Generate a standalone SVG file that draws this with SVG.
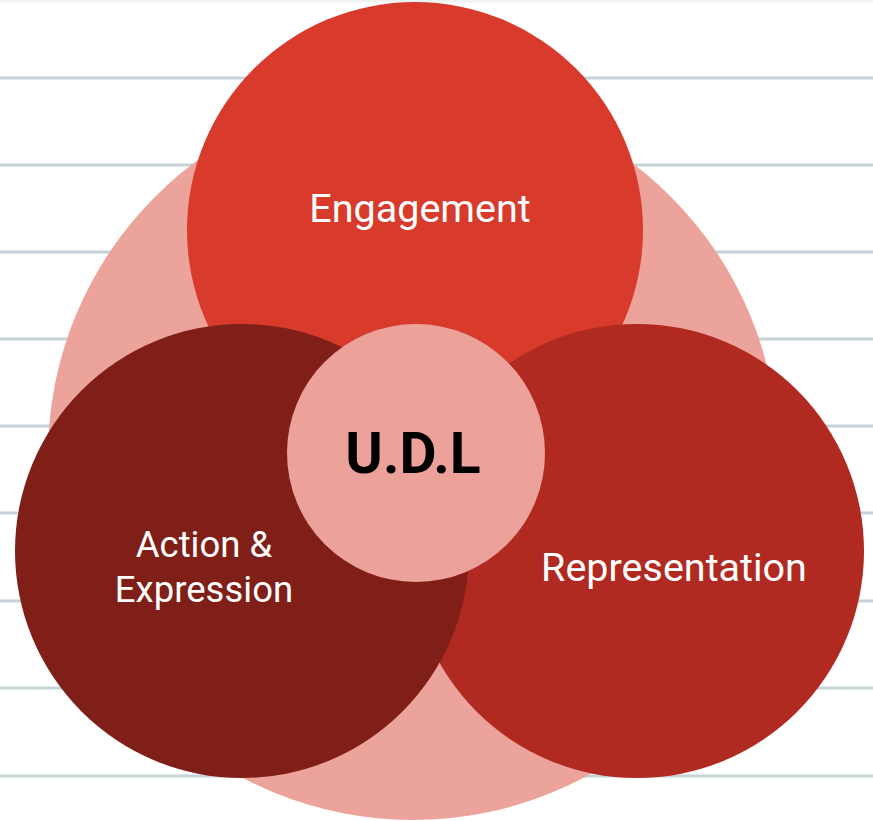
<svg xmlns="http://www.w3.org/2000/svg" width="873" height="821" viewBox="0 0 873 821">
  <style>
    .rule { stroke: #c6d3d8; stroke-width: 3; }
    .lbl { font-family: Roboto, "Liberation Sans", sans-serif; fill: #ffffff; text-anchor: middle; }
    .core { font-family: Roboto, "Liberation Sans", sans-serif; fill: #000000; font-weight: bold; text-anchor: middle; }
  </style>
  <rect x="0" y="0" width="873" height="821" fill="#ffffff"/>
  <g id="background-lines">
    <line class="rule" x1="0" y1="1" x2="873" y2="1" stroke-opacity="0.3"/>
    <line class="rule" x1="0" y1="78" x2="873" y2="78"/>
    <line class="rule" x1="0" y1="165" x2="873" y2="165"/>
    <line class="rule" x1="0" y1="252" x2="873" y2="252"/>
    <line class="rule" x1="0" y1="339" x2="873" y2="339"/>
    <line class="rule" x1="0" y1="426" x2="873" y2="426"/>
    <line class="rule" x1="0" y1="513" x2="873" y2="513"/>
    <line class="rule" x1="0" y1="601" x2="873" y2="601"/>
    <line class="rule" x1="0" y1="688" x2="873" y2="688"/>
    <line class="rule" x1="0" y1="776" x2="873" y2="776"/>
  </g>
  <g id="outer">
    <circle cx="413" cy="455" r="365" fill="#eca39b"/>
  </g>
  <g id="engagement">
    <circle cx="415" cy="230" r="228" fill="#d83a2b"/>
    <text class="lbl" x="420" y="222" font-size="39.5">Engagement</text>
  </g>
  <g id="representation">
    <circle cx="637" cy="551" r="227" fill="#b02a21"/>
    <text class="lbl" x="674" y="581" font-size="39.5">Representation</text>
  </g>
  <g id="action-expression">
    <circle cx="242" cy="551" r="227" fill="#801f17"/>
    <text class="lbl" x="204" y="557" font-size="36.5">Action &amp;</text>
    <text class="lbl" x="204" y="602" font-size="36.5">Expression</text>
  </g>
  <g id="udl">
    <circle cx="416" cy="453" r="129" fill="#eca19a"/>
    <text class="core" x="413" y="473" font-size="57">U.D.L</text>
  </g>
  <g id="connectors"/>
</svg>
